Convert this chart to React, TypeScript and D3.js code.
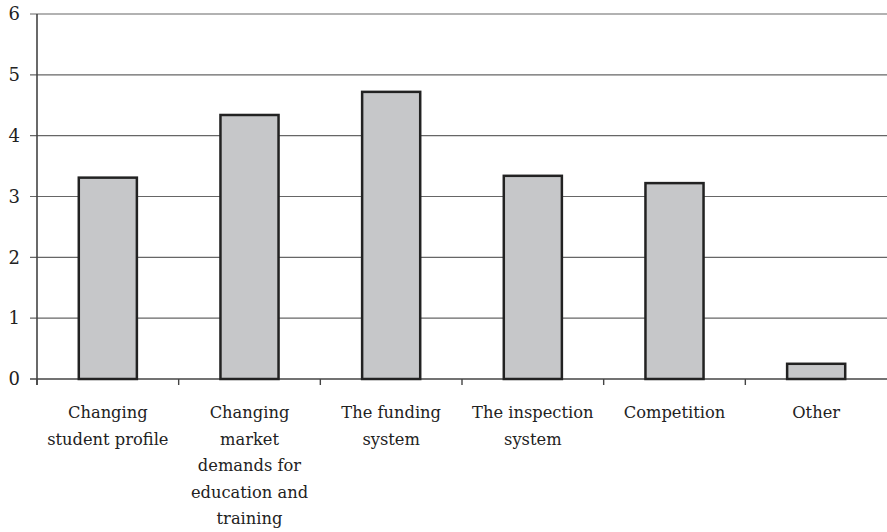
import React from "react";
import * as d3 from "d3";

const categories = [
  ["Changing", "student profile"],
  ["Changing", "market", "demands for", "education and", "training"],
  ["The funding", "system"],
  ["The inspection", "system"],
  ["Competition"],
  ["Other"],
];
const values = [3.31, 4.34, 4.72, 3.34, 3.22, 0.25];
const yTicks = [0, 1, 2, 3, 4, 5, 6];

const W = 887;
const H = 532;
const margin = { left: 37, right: 0, top: 14, bottom: 153 };

export default function App() {
  const x = d3
    .scaleBand<number>()
    .domain(categories.map((_, i) => i))
    .range([margin.left, W - margin.right])
    .paddingInner(0)
    .paddingOuter(0);
  const y = d3.scaleLinear().domain([0, 6]).range([H - margin.bottom, margin.top]);
  const bw = x.bandwidth() * 0.41;
  const fontStyle = { fontFamily: "'DejaVu Serif', serif", fontSize: "16.3px" };
  const tickStyle = { fontFamily: "'DejaVu Serif', serif", fontSize: "18px" };
  const boundaries = d3.range(categories.length).map((i) => x(i)!);

  return (
    <div style={{ position: "absolute", left: 0, top: 0 }}>
      <svg width={W} height={H} style={{ display: "block", background: "#fff" }}>
        {yTicks.map((t) => (
          <g key={t}>
            <line
              x1={margin.left - 7}
              x2={W}
              y1={y(t)}
              y2={y(t)}
              stroke={t === 0 ? "#444" : "#666"}
              strokeWidth={t === 0 ? 1.6 : 1.2}
            />
            <text x={20} y={y(t)} dy="0.35em" textAnchor="end" style={tickStyle} fill="#222">
              {t}
            </text>
          </g>
        ))}
        <line
          x1={margin.left}
          x2={margin.left}
          y1={y(6)}
          y2={y(0) + 6}
          stroke="#444"
          strokeWidth={1.6}
        />
        {boundaries.map((b, i) => (
          <line key={i} x1={b} x2={b} y1={y(0)} y2={y(0) + 6} stroke="#444" strokeWidth={1.4} />
        ))}
        {values.map((v, i) => {
          const cx = x(i)! + x.bandwidth() / 2;
          return (
            <rect
              key={i}
              x={cx - bw / 2}
              y={y(v)}
              width={bw}
              height={y(0) - y(v)}
              fill="#c6c7c9"
              stroke="#222"
              strokeWidth={2.5}
            />
          );
        })}
        {categories.map((lines, i) => {
          const cx = x(i)! + x.bandwidth() / 2;
          return (
            <text key={i} textAnchor="middle" style={fontStyle} fill="#222">
              {lines.map((l, j) => (
                <tspan key={j} x={cx} y={418 + j * 26.5}>
                  {l}
                </tspan>
              ))}
            </text>
          );
        })}
      </svg>
    </div>
  );
}
